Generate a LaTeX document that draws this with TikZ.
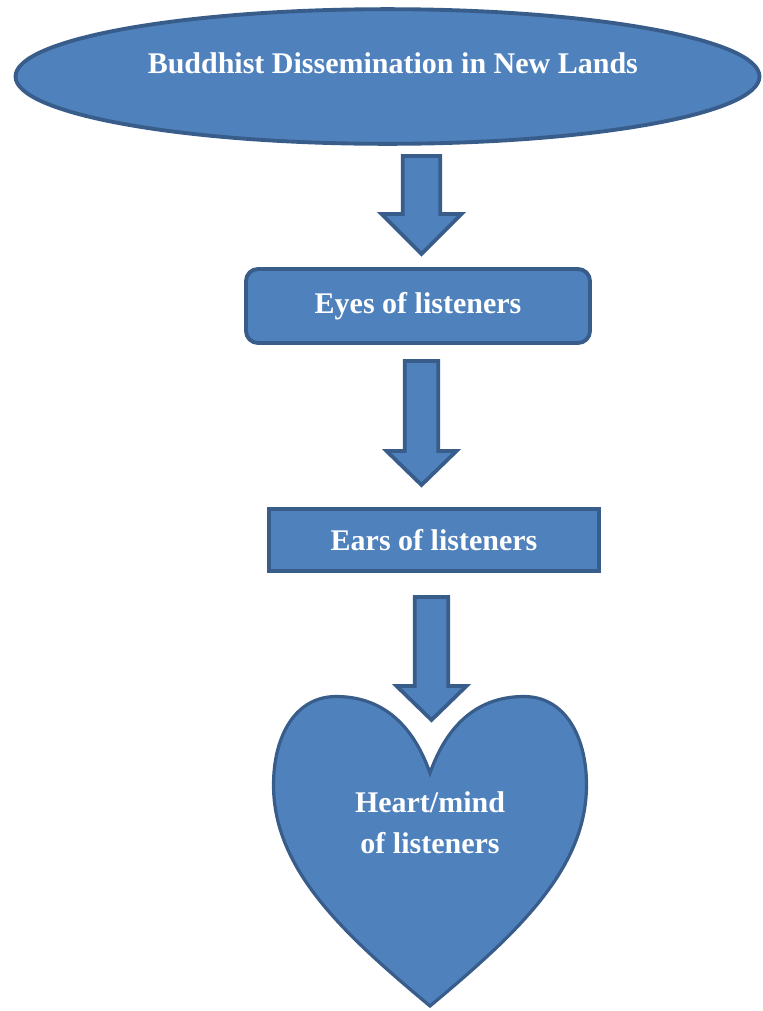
\documentclass[tikz,border=0pt]{standalone}
\usepackage{fontspec}
\setmainfont{Liberation Serif}
\usetikzlibrary{shapes.geometric,calc}

\tikzset{
  blockshape/.style={draw=cline,fill=cfill,line width=2.9pt,text=ctext,
    font=\bfseries\fontsize{22.5}{30.5}\selectfont},
  blockarrow/.style={draw=cline,fill=cfill,line width=2.8pt,line join=miter},
}
% #1 top of shaft, #2 tip, #3 half shaft, #4 half head, #5 head length
\newcommand{\BlockArrow}[5]{%
  \draw[blockarrow] ($(#1)+(-#3,0)$) -- ($(#1)+(#3,0)$) -- ($(#2)+(#3,-#5)$)
    -- ($(#2)+(#4,-#5)$) -- (#2) -- ($(#2)+(-#4,-#5)$) -- ($(#2)+(-#3,-#5)$) -- cycle;}

\begin{document}
\begin{tikzpicture}[x=0.75pt,y=-0.75pt]
			\definecolor{cfill}{rgb}{0.31,0.506,0.741}
			\definecolor{cline}{rgb}{0.22,0.365,0.541}
			\definecolor{ctext}{rgb}{1.0,1.0,1.0}
			\useasboundingbox (0,0) rectangle (763,1011);
			%
			\node[blockshape,ellipse,minimum width=558pt,minimum height=101pt,
			  text height=16pt,text depth=21pt] (lands) at (387.5,76.5) {\hspace{8pt}Buddhist Dissemination in New Lands};
			\node[blockshape,rounded corners=9pt,minimum width=258pt,minimum height=55.5pt] (eyes) at (418,306) {Eyes of listeners};
			\node[blockshape,minimum width=247.5pt,minimum height=46.5pt] (ears) at (434,540) {Ears of listeners};
			%
			\draw[blockshape,line width=2.4pt] (430,773) .. controls (412,722) and (380,696.5) .. (336,696.5)
			  .. controls (296,696.5) and (273.5,735) .. (273.5,785)
			  .. controls (273.5,870) and (345,935) .. (430,1006)
			  .. controls (515,935) and (586.5,870) .. (586.5,785)
			  .. controls (586.5,735) and (564,696.5) .. (524,696.5)
			  .. controls (480,696.5) and (448,722) .. (430,773) -- cycle;
			\node[blockshape,draw=none,fill=none,align=center] (heart) at (430,823) {Heart/mind\\of listeners};
			%
			\coordinate (a1top) at (421.5,156);
			\coordinate (a1tip) at (421.5,254);
			\coordinate (a2top) at (421.5,361);
			\coordinate (a2tip) at (421.5,485);
			\coordinate (a3top) at (431.5,597);
			\coordinate (a3tip) at (431.5,720);
			%
			\BlockArrow{a1top}{a1tip}{18.75}{40}{40}
			\BlockArrow{a2top}{a2tip}{16.75}{35}{34}
			\BlockArrow{a3top}{a3tip}{16.75}{35}{34}
			%
		\end{tikzpicture}
\end{document}
